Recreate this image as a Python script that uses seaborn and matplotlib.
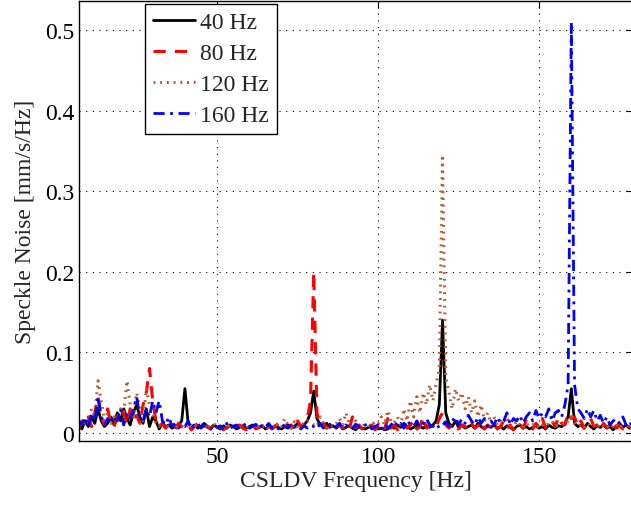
import numpy as np
import pandas as pd
import matplotlib
matplotlib.use("Agg")
import matplotlib.pyplot as plt
import seaborn as sns

freq = np.arange(7, 181)  # Hz, 1 Hz bins

hz40 = [0.010, 0.005, 0.015, 0.008, 0.020, 0.012, 0.030, 0.015, 0.008, 0.012,
        0.020, 0.010, 0.025, 0.015, 0.030, 0.018, 0.010, 0.025, 0.035, 0.020,
        0.012, 0.030, 0.008, 0.020, 0.015, 0.005, 0.012, 0.008, 0.010, 0.006,
        0.008, 0.010, 0.015, 0.055, 0.012, 0.008, 0.010, 0.006, 0.008, 0.012,
        0.008, 0.006, 0.010, 0.007, 0.005, 0.009, 0.006, 0.010, 0.008, 0.005,
        0.007, 0.009, 0.006, 0.008, 0.010, 0.006, 0.007, 0.009, 0.005, 0.008,
        0.006, 0.009, 0.007, 0.005, 0.008, 0.010, 0.006, 0.008, 0.012, 0.009,
        0.010, 0.015, 0.025, 0.052, 0.018, 0.010, 0.008, 0.012, 0.007, 0.009,
        0.006, 0.010, 0.005, 0.007, 0.009, 0.006, 0.004, 0.008, 0.006, 0.005,
        0.007, 0.009, 0.008, 0.005, 0.006, 0.004, 0.005, 0.008, 0.006, 0.010,
        0.007, 0.012, 0.008, 0.005, 0.007, 0.010, 0.008, 0.006, 0.009, 0.007,
        0.010, 0.015, 0.035, 0.140, 0.025, 0.012, 0.008, 0.015, 0.007, 0.010,
        0.006, 0.008, 0.010, 0.006, 0.012, 0.008, 0.005, 0.009, 0.007, 0.010,
        0.006, 0.008, 0.005, 0.009, 0.007, 0.004, 0.008, 0.010, 0.006, 0.008,
        0.005, 0.007, 0.009, 0.006, 0.008, 0.005, 0.010, 0.007, 0.006, 0.009,
        0.008, 0.012, 0.020, 0.055, 0.012, 0.008, 0.010, 0.006, 0.012, 0.008,
        0.005, 0.009, 0.007, 0.010, 0.006, 0.008, 0.004, 0.009, 0.012, 0.007,
        0.010, 0.006, 0.008, 0.005]

hz80 = [0.005, 0.015, 0.010, 0.020, 0.008, 0.025, 0.045, 0.020, 0.010, 0.030,
        0.012, 0.008, 0.020, 0.015, 0.025, 0.010, 0.030, 0.018, 0.022, 0.012,
        0.035, 0.050, 0.080, 0.040, 0.015, 0.008, 0.012, 0.006, 0.010, 0.008,
        0.005, 0.012, 0.008, 0.006, 0.010, 0.004, 0.008, 0.012, 0.006, 0.009,
        0.007, 0.005, 0.010, 0.006, 0.008, 0.004, 0.007, 0.009, 0.005, 0.008,
        0.010, 0.006, 0.004, 0.008, 0.011, 0.005, 0.007, 0.009, 0.006, 0.010,
        0.005, 0.008, 0.012, 0.006, 0.009, 0.007, 0.010, 0.005, 0.015, 0.008,
        0.012, 0.018, 0.040, 0.200, 0.025, 0.008, 0.012, 0.006, 0.010, 0.005,
        0.008, 0.010, 0.006, 0.009, 0.004, 0.020, 0.007, 0.010, 0.005, 0.008,
        0.006, 0.010, 0.004, 0.008, 0.012, 0.005, 0.018, 0.006, 0.010, 0.004,
        0.008, 0.012, 0.006, 0.010, 0.015, 0.005, 0.008, 0.020, 0.006, 0.010,
        0.012, 0.008, 0.018, 0.025, 0.010, 0.006, 0.012, 0.008, 0.005, 0.010,
        0.008, 0.004, 0.012, 0.006, 0.009, 0.015, 0.005, 0.010, 0.007, 0.012,
        0.005, 0.008, 0.015, 0.006, 0.010, 0.004, 0.009, 0.012, 0.006, 0.015,
        0.008, 0.005, 0.012, 0.007, 0.018, 0.006, 0.010, 0.015, 0.008, 0.020,
        0.012, 0.010, 0.025, 0.018, 0.020, 0.008, 0.015, 0.006, 0.012, 0.018,
        0.008, 0.010, 0.005, 0.012, 0.007, 0.010, 0.015, 0.006, 0.009, 0.005,
        0.012, 0.008, 0.006, 0.010]

hz120 = [0.010, 0.008, 0.015, 0.012, 0.030, 0.020, 0.065, 0.040, 0.015, 0.025,
         0.012, 0.020, 0.018, 0.030, 0.025, 0.065, 0.035, 0.020, 0.050, 0.030,
         0.015, 0.055, 0.035, 0.025, 0.012, 0.008, 0.015, 0.010, 0.008, 0.012,
         0.006, 0.010, 0.008, 0.005, 0.012, 0.007, 0.010, 0.006, 0.008, 0.011,
         0.005, 0.009, 0.012, 0.006, 0.008, 0.004, 0.010, 0.007, 0.009, 0.006,
         0.008, 0.012, 0.005, 0.009, 0.007, 0.011, 0.006, 0.008, 0.010, 0.005,
         0.009, 0.006, 0.012, 0.008, 0.018, 0.010, 0.006, 0.014, 0.008, 0.012,
         0.010, 0.015, 0.012, 0.010, 0.008, 0.020, 0.012, 0.006, 0.010, 0.008,
         0.012, 0.018, 0.010, 0.025, 0.012, 0.008, 0.015, 0.010, 0.006, 0.012,
         0.010, 0.008, 0.015, 0.012, 0.020, 0.010, 0.028, 0.015, 0.012, 0.020,
         0.010, 0.030, 0.015, 0.040, 0.020, 0.045, 0.025, 0.050, 0.035, 0.060,
         0.040, 0.060, 0.080, 0.345, 0.070, 0.050, 0.030, 0.055, 0.040, 0.050,
         0.030, 0.045, 0.025, 0.040, 0.020, 0.035, 0.015, 0.025, 0.012, 0.020,
         0.010, 0.015, 0.012, 0.020, 0.010, 0.008, 0.015, 0.010, 0.006, 0.012,
         0.008, 0.010, 0.012, 0.006, 0.010, 0.008, 0.012, 0.015, 0.008, 0.010,
         0.012, 0.010, 0.015, 0.020, 0.012, 0.008, 0.010, 0.006, 0.012, 0.008,
         0.010, 0.006, 0.012, 0.008, 0.010, 0.005, 0.009, 0.012, 0.006, 0.010,
         0.008, 0.012, 0.006, 0.009]

hz160 = [0.015, 0.010, 0.020, 0.008, 0.025, 0.015, 0.045, 0.020, 0.010, 0.018,
         0.012, 0.022, 0.015, 0.030, 0.010, 0.025, 0.018, 0.030, 0.045, 0.020,
         0.015, 0.030, 0.020, 0.040, 0.025, 0.040, 0.015, 0.010, 0.020, 0.008,
         0.012, 0.006, 0.010, 0.008, 0.015, 0.005, 0.009, 0.012, 0.006, 0.010,
         0.008, 0.005, 0.011, 0.007, 0.009, 0.004, 0.012, 0.006, 0.008, 0.010,
         0.005, 0.009, 0.012, 0.006, 0.008, 0.011, 0.005, 0.010, 0.007, 0.012,
         0.006, 0.009, 0.005, 0.011, 0.008, 0.006, 0.012, 0.007, 0.010, 0.005,
         0.009, 0.006, 0.010, 0.008, 0.005, 0.012, 0.006, 0.009, 0.011, 0.005,
         0.008, 0.012, 0.006, 0.010, 0.007, 0.005, 0.011, 0.008, 0.006, 0.010,
         0.012, 0.005, 0.008, 0.010, 0.004, 0.012, 0.006, 0.010, 0.015, 0.008,
         0.012, 0.006, 0.016, 0.010, 0.008, 0.015, 0.007, 0.012, 0.018, 0.010,
         0.008, 0.012, 0.006, 0.010, 0.014, 0.008, 0.015, 0.020, 0.010, 0.018,
         0.012, 0.022, 0.015, 0.010, 0.020, 0.012, 0.018, 0.008, 0.015, 0.010,
         0.020, 0.012, 0.015, 0.025, 0.010, 0.018, 0.015, 0.022, 0.012, 0.020,
         0.025, 0.015, 0.028, 0.018, 0.025, 0.020, 0.030, 0.015, 0.025, 0.028,
         0.020, 0.035, 0.060, 0.510, 0.060, 0.030, 0.025, 0.018, 0.030, 0.020,
         0.028, 0.015, 0.022, 0.012, 0.020, 0.010, 0.015, 0.018, 0.012, 0.020,
         0.010, 0.015, 0.008, 0.012]

labels = ["40 Hz", "80 Hz", "120 Hz", "160 Hz"]
series = [hz40, hz80, hz120, hz160]
colors = ["#000000", "#FF0000", "#B85A30", "#0000FF"]
styles = ["-", (0, (4, 3)), (0, (0.6, 1.6)), (0, (4, 2, 1, 2))]
widths = [2.0, 2.2, 2.2, 2.0]

sns.set_style("white")
plt.rcParams["font.family"] = ["Liberation Serif", "DejaVu Serif"]

fig = plt.figure(figsize=(6.31, 5.06), dpi=100)
ax = fig.add_axes([79/631, 64/506, 554/631, 440/506])

for lab, vals, c, ls, lw in zip(labels, series, colors, styles, widths):
    sns.lineplot(x=freq, y=vals, ax=ax, color=c, linestyle=ls, linewidth=lw,
                 label=lab, legend=False)

ax.set_xlim(7.1, 7.1 + 554/3.22)
ax.set_ylim(-0.0099, 0.536)
ax.set_xticks([50, 100, 150])
ax.set_yticks([0, 0.1, 0.2, 0.3, 0.4, 0.5])
ax.set_yticklabels(["0", "0.1", "0.2", "0.3", "0.4", "0.5"])
ax.tick_params(direction="in", length=5, width=0.8, labelsize=17, top=True, right=True, colors="black")
ax.grid(True, color="black", linestyle=(0, (1, 5)), linewidth=0.8)
for s in ax.spines.values():
    s.set_color("black")
    s.set_linewidth(1.0)

ax.set_xlabel("CSLDV Frequency [Hz]", fontsize=17, labelpad=2)
ax.set_ylabel("Speckle Noise [mm/s/Hz]", fontsize=17, labelpad=6)

leg = ax.legend(loc="upper left", bbox_to_anchor=(145/631, 1 - 5/506),
                bbox_transform=fig.transFigure, fontsize=17, frameon=True,
                fancybox=False, edgecolor="black", framealpha=1,
                handlelength=1.8, handletextpad=0.2, labelspacing=0.4,
                borderpad=0.33, borderaxespad=0)
leg.get_frame().set_linewidth(1.0)

fig.savefig("out.png", dpi=100)
